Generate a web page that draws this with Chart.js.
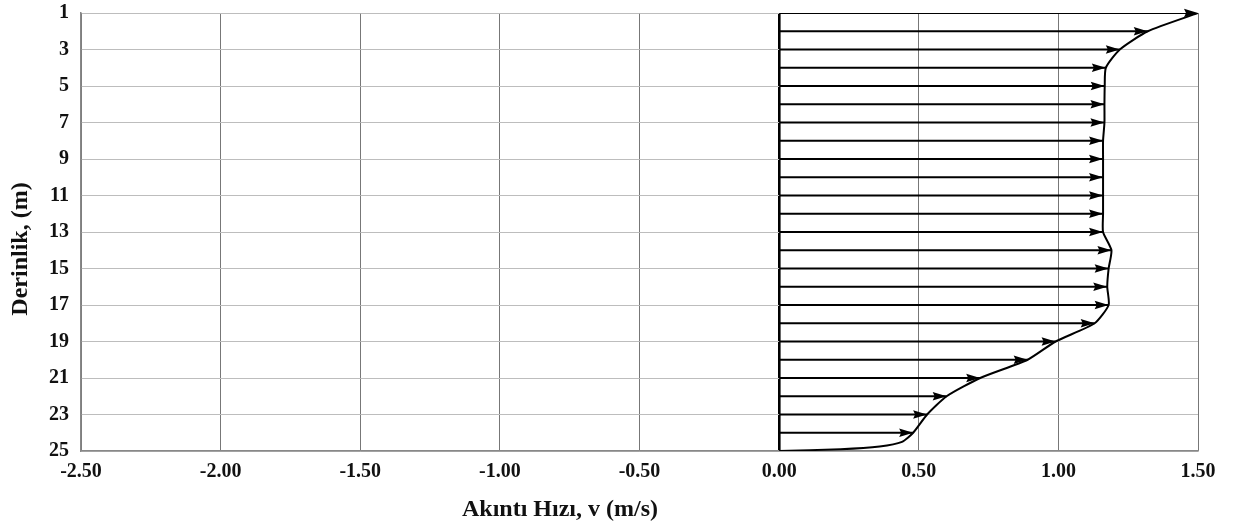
<!DOCTYPE html>
<html>
<head>
<meta charset="utf-8">
<script src="https://cdn.jsdelivr.net/npm/chart.js@4.4.1/dist/chart.umd.min.js"></script>
<style>
  html, body { margin: 0; padding: 0; background: #fff; }
  #wrap { width: 1242px; height: 528px; }
</style>
</head>
<body>
<div id="wrap"><canvas id="profile" width="1242" height="528"></canvas></div>
<script>
// ---------- data ----------
const depths = [1, 2, 3, 4, 5, 6, 7, 8, 9, 10, 11, 12, 13, 14, 15, 16, 17, 18, 19, 20, 21, 22, 23, 24, 25];
const speeds = [1.50, 1.32, 1.22, 1.17, 1.166, 1.165, 1.165, 1.16, 1.16, 1.16, 1.16, 1.16, 1.16,
                1.19, 1.18, 1.175, 1.18, 1.13, 0.99, 0.89, 0.72, 0.60, 0.53, 0.48, 0.00];
// extra readings of the curve near the bottom, where it bends to zero
const tailDepths = [24.5, 24.75, 24.9];
const tailSpeeds = [0.44, 0.36, 0.22];
// arrows are drawn at depths 1..24
const arrowDepths = depths.slice(0, 24);

const xTicks = [-2.5, -2.0, -1.5, -1.0, -0.5, 0, 0.5, 1.0, 1.5];
const xTitle = 'Akıntı Hızı, v (m/s)';
const yTitle = 'Derinlik, (m)';

const FONT = "'Liberation Serif', 'Times New Roman', serif";

// ---------- curve points (profile + tail, sorted by depth) ----------
const curvePts = depths.map((d, i) => ({ x: speeds[i], y: d }))
  .concat(tailDepths.map((d, i) => ({ x: tailSpeeds[i], y: d })))
  .sort((a, b) => a.y - b.y);

const arrowSets = arrowDepths.map((d, i) => ({
  data: [{ x: 0, y: d }, { x: speeds[i], y: d }],
  showLine: true,
  borderColor: '#000',
  borderWidth: 2,
  pointRadius: 0,
  arrow: true
}));

// ---------- arrowheads on the end of each arrow ----------
const arrowHeads = {
  id: 'arrowHeads',
  afterDatasetsDraw(chart) {
    const ctx = chart.ctx;
    chart.data.datasets.forEach((ds, i) => {
      if (!ds.arrow) return;
      const meta = chart.getDatasetMeta(i);
      const tip = meta.data[meta.data.length - 1];
      if (!tip) return;
      const L = 14, W = 4.2;
      ctx.save();
      ctx.fillStyle = '#000';
      ctx.beginPath();
      ctx.moveTo(tip.x, tip.y);
      ctx.lineTo(tip.x - L, tip.y - W);
      ctx.lineTo(tip.x - L + 2, tip.y);
      ctx.lineTo(tip.x - L, tip.y + W);
      ctx.closePath();
      ctx.fill();
      ctx.restore();
    });
  }
};

// ---------- axis titles (placed like in the original figure) ----------
const axisTitles = {
  id: 'axisTitles',
  afterDraw(chart) {
    const ctx = chart.ctx;
    ctx.save();
    ctx.fillStyle = '#111';
    ctx.font = `bold 24px ${FONT}`;
    ctx.textAlign = 'center';
    ctx.textBaseline = 'alphabetic';
    ctx.fillText(xTitle, 560, 516);
    ctx.translate(27, 249);
    ctx.rotate(-Math.PI / 2);
    ctx.fillText(yTitle, 0, 0);
    ctx.restore();
  }
};

new Chart(document.getElementById('profile'), {
  type: 'scatter',
  data: {
    datasets: [
      ...arrowSets,
      {
        data: curvePts,
        showLine: true,
        borderColor: '#000',
        borderWidth: 2,
        pointRadius: 0,
        tension: 0.2
      }
    ]
  },
  options: {
    responsive: false,
    animation: false,
    layout: { padding: { top: 13, right: 44, bottom: 0, left: 0 } },
    plugins: { legend: { display: false }, tooltip: { enabled: false } },
    scales: {
      x: {
        type: 'linear',
        min: -2.5, max: 1.5,
        afterFit(scale) { scale.height = 77; scale.paddingLeft = 0; scale.paddingRight = 0; },
        afterBuildTicks(scale) { scale.ticks = xTicks.map(v => ({ value: v })); },
        ticks: {
          padding: 9,
          color: '#111',
          font: { family: FONT, size: 20, weight: 'bold' },
          callback: v => Number(v).toFixed(2)
        },
        grid: {
          drawTicks: false,
          color: c => (c.tick && c.tick.value === 0) ? '#000' : '#777',
          lineWidth: c => (c.tick && c.tick.value === 0) ? 2.6 : 1
        },
        border: { color: '#888', width: 1.5 }
      },
      y: {
        type: 'linear',
        reverse: true,
        min: 1, max: 25,
        afterFit(scale) { scale.width = 81; scale.paddingTop = 0; scale.paddingBottom = 0; },
        ticks: {
          stepSize: 2,
          padding: 12,
          color: '#111',
          font: { family: FONT, size: 20, weight: 'bold' }
        },
        grid: { drawTicks: false, color: '#bdbdbd', lineWidth: 1 },
        border: { color: '#888', width: 1.5 }
      }
    }
  },
  plugins: [arrowHeads, axisTitles]
});
</script>
</body>
</html>
